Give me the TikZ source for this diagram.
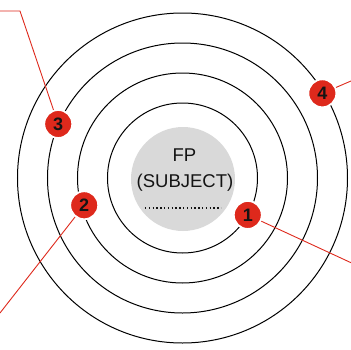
\documentclass[tikz,border=0pt]{standalone}
\usepackage{fontspec}
\setmainfont{Liberation Sans}
\definecolor{badge}{RGB}{222, 41, 28}
\definecolor{subject}{RGB}{217, 217, 217}
\definecolor{ink}{RGB}{20, 20, 20}
\usetikzlibrary{calc}

\begin{document}
\begin{tikzpicture}[x=1pt,y=1pt,
		ring/.style={draw=black,line width=1pt},
		num/.style={circle,fill=badge,draw=white,line width=1.8pt,minimum size=28pt,
			inner sep=0pt,font=\fontsize{18}{18}\selectfont\bfseries,text=ink},
		lead/.style={draw=badge,line width=0.9pt},
		label/.style={anchor=base,text=ink,font=\fontsize{18.5}{18.5}\selectfont}]
	\useasboundingbox (-182.5,-171) rectangle (168.5,178);
	% subject in the middle
	\node[circle,fill=subject,minimum size=104pt,inner sep=0pt] (subj) at (0.5,-1) {};
	\node[label] (fp) at (2,16.3) {FP};
	\node[label] (sub) at (2.5,-9) {(SUBJECT)};
	\draw[ink,line width=1.7pt,dash pattern=on 1.4pt off 2.4pt] (-37.5,-29.7) -- (38.5,-29.7);
	% rings
	\foreach \r in {75,105,135,165}
		\draw[ring] (0,0) circle (\r);
	% numbered badges
	\node[num] (n1) at (-29.5:75) {1};
	\node[num] (n2) at (195.5:102) {2};
	\node[num] (n3) at (156.5:135.5) {3};
	\node[num] (n4) at (31.2:163.5) {4};
	% leader lines
	\coordinate (e1) at (168.5,-84.7);
	\coordinate (e2) at (-182.5,-135);
	\coordinate (k3) at (-162.5,167);
	\coordinate (e3) at (-182.5,167);
	\coordinate (e4) at (168.5,97);
	\draw[lead] (n1) -- (e1);
	\draw[lead] (n2) -- (e2);
	\draw[lead] (n3) -- (k3) -- (e3);
	\draw[lead] (n4) -- (e4);
\end{tikzpicture}
\end{document}
